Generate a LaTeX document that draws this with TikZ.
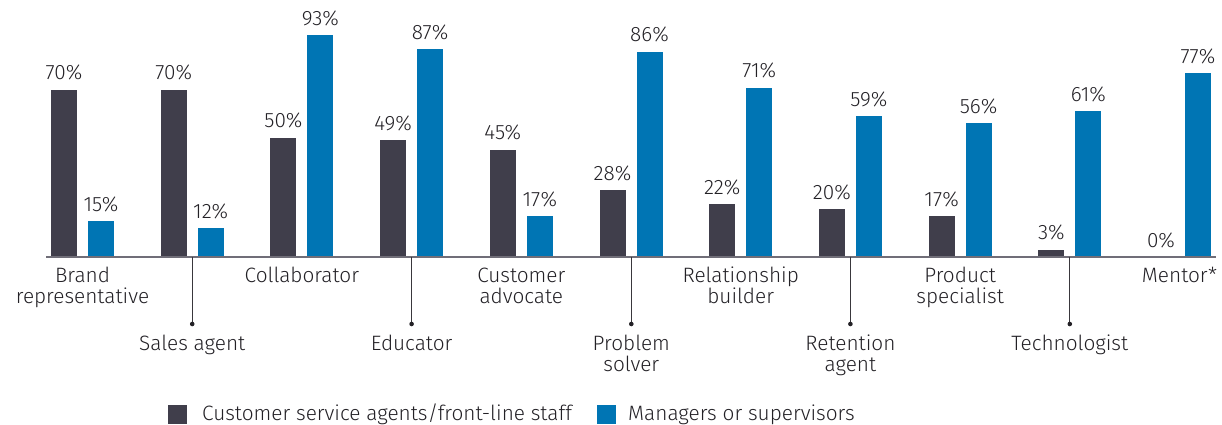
\documentclass[tikz,border=0pt]{standalone}
\usepackage{fontspec}
\setmainfont{Fira Sans Light}
\usepackage{tikz}

\definecolor{staffgrey}{RGB}{64,62,75}
\definecolor{mgrblue}{RGB}{0,117,180}
\definecolor{txtgrey}{RGB}{35,33,38}

\tikzset{
  staffbar/.style={fill=staffgrey},
  mgrbar/.style={fill=mgrblue},
  pct/.style={anchor=base, inner sep=0pt, text=txtgrey, font=\fontsize{20.8}{21}\selectfont},
  role/.style={anchor=base, align=center, inner sep=0pt, text=txtgrey, font=\fontsize{20.8}{21}\selectfont},
  leader/.style={draw=txtgrey!90, line width=0.9pt},
  keybox/.style={anchor=north west, inner sep=0pt, minimum size=19pt},
}

\begin{document}
\begin{tikzpicture}[x=1pt,y=1pt]
    \useasboundingbox (0,-168) rectangle (1222,257);
    % bars: staff, then managers
    \fill[staffbar] (51,0) rectangle ++(26,167.0);
    \fill[mgrbar] (88,0) rectangle ++(26,35.8);
    \fill[staffbar] (160.7,0) rectangle ++(26,167.0);
    \fill[mgrbar] (197.7,0) rectangle ++(26,28.6);
    \fill[staffbar] (270.4,0) rectangle ++(26,119.3);
    \fill[mgrbar] (307.4,0) rectangle ++(26,221.9);
    \fill[staffbar] (380.1,0) rectangle ++(26,116.9);
    \fill[mgrbar] (417.1,0) rectangle ++(26,207.6);
    \fill[staffbar] (489.8,0) rectangle ++(26,107.4);
    \fill[mgrbar] (526.8,0) rectangle ++(26,40.6);
    \fill[staffbar] (599.5,0) rectangle ++(26,66.8);
    \fill[mgrbar] (636.5,0) rectangle ++(26,205.2);
    \fill[staffbar] (709.2,0) rectangle ++(26,52.5);
    \fill[mgrbar] (746.2,0) rectangle ++(26,169.4);
    \fill[staffbar] (818.9,0) rectangle ++(26,47.7);
    \fill[mgrbar] (855.9,0) rectangle ++(26,140.8);
    \fill[staffbar] (928.6,0) rectangle ++(26,40.6);
    \fill[mgrbar] (965.6,0) rectangle ++(26,133.6);
    \fill[staffbar] (1038.3,0) rectangle ++(26,7.2);
    \fill[mgrbar] (1075.3,0) rectangle ++(26,145.5);
    \fill[mgrbar] (1185,0) rectangle ++(26,183.7);
    \draw[draw=staffgrey!75, line width=1.4pt] (46,0) -- (1216,0);

    % values
    \node[pct] (v1a) at (64,177.0) {70\%};
    \node[pct] (v1b) at (101,45.8) {15\%};
    \node[pct] (v2a) at (173.7,177.0) {70\%};
    \node[pct] (v2b) at (210.7,38.6) {12\%};
    \node[pct] (v3a) at (283.4,129.3) {50\%};
    \node[pct] (v3b) at (320.4,231.9) {93\%};
    \node[pct] (v4a) at (393.1,126.9) {49\%};
    \node[pct] (v4b) at (430.1,217.6) {87\%};
    \node[pct] (v5a) at (502.8,117.4) {45\%};
    \node[pct] (v5b) at (539.8,50.6) {17\%};
    \node[pct] (v6a) at (612.5,76.8) {28\%};
    \node[pct] (v6b) at (649.5,215.2) {86\%};
    \node[pct] (v7a) at (722.2,62.5) {22\%};
    \node[pct] (v7b) at (759.2,179.4) {71\%};
    \node[pct] (v8a) at (831.9,57.7) {20\%};
    \node[pct] (v8b) at (868.9,150.8) {59\%};
    \node[pct] (v9a) at (941.6,50.6) {17\%};
    \node[pct] (v9b) at (978.6,143.6) {56\%};
    \node[pct] (v10a) at (1051.3,17.2) {3\%};
    \node[pct] (v10b) at (1088.3,155.5) {61\%};
    \node[pct] (v11a) at (1161,9) {0\%};
    \node[pct] (v11b) at (1198,193.7) {77\%};

    % roles under the axis (base = last line)
    \node[role] (r1) at (82.5,-47) {Brand\\representative};
    \node[role] (r3) at (301.9,-26) {Collaborator};
    \node[role] (r5) at (521.3,-47) {Customer\\advocate};
    \node[role] (r7) at (740.7,-47) {Relationship\\builder};
    \node[role] (r9) at (960.1,-47) {Product\\specialist};
    \node[role] (r11) at (1179.5,-26) {Mentor*};

    \coordinate (a2) at (192.2,0);
    \coordinate (d2) at (192.2,-67);
    \coordinate (a4) at (411.6,0);
    \coordinate (d4) at (411.6,-67);
    \coordinate (a6) at (631.3,0);
    \coordinate (d6) at (631.3,-67);
    \coordinate (a8) at (850.4,0);
    \coordinate (d8) at (850.4,-67);
    \coordinate (a10) at (1069.8,0);
    \coordinate (d10) at (1069.8,-67);
    \draw[leader] (a2) -- (d2);
    \draw[leader] (a4) -- (d4);
    \draw[leader] (a6) -- (d6);
    \draw[leader] (a8) -- (d8);
    \draw[leader] (a10) -- (d10);
    \fill[txtgrey] (d2) circle (2.3) (d4) circle (2.3) (d6) circle (2.3) (d8) circle (2.3) (d10) circle (2.3);
    \node[role] (r2) at (192.2,-93) {Sales agent};
    \node[role] (r4) at (411.6,-93) {Educator};
    \node[role] (r6) at (631.3,-114) {Problem\\solver};
    \node[role] (r8) at (850.4,-114) {Retention\\agent};
    \node[role] (r10) at (1069.8,-93) {Technologist};

    % key
    \node[keybox, fill=staffgrey] (k1) at (168,-148) {};
    \node[pct, anchor=base west] (k1t) at (202,-163) {Customer service agents/front-line staff};
    \node[keybox, fill=mgrblue] (k2) at (597,-148) {};
    \node[pct, anchor=base west] (k2t) at (628,-163) {Managers or supervisors};
\end{tikzpicture}
\end{document}
